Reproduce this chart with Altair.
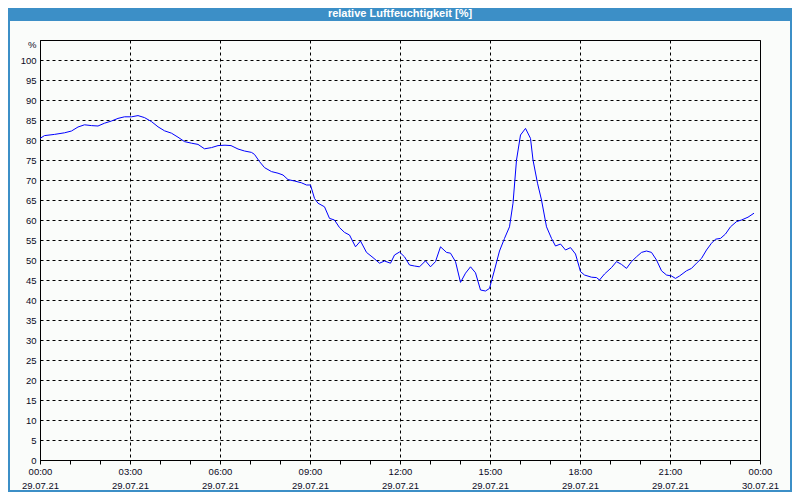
import altair as alt
import pandas as pd

# minutes after 29.07.21 00:00 and relative humidity [%]
minutes = [0, 9, 29, 49, 63, 76, 89, 103, 116, 129, 143, 156, 169, 183, 196, 209, 223, 236, 249, 263,
           276, 289, 303, 316, 329, 343, 356, 370, 382, 396, 409, 423, 429, 439, 449, 463, 476, 486, 496, 509,
           523, 533, 541, 549, 556, 569, 579, 589, 599, 609, 619, 631, 641, 653, 666, 679, 689, 701, 709, 719,
           729, 739, 749, 759, 771, 781, 791, 801, 813, 821, 831, 841, 851, 861, 871, 881, 891, 899, 909, 919,
           929, 939, 946, 953, 961, 971, 981, 986, 995, 1003, 1013, 1023, 1031, 1041, 1051, 1061, 1071, 1081, 1089, 1103,
           1113, 1119, 1129, 1143, 1153, 1163, 1173, 1183, 1193, 1203, 1213, 1223, 1233, 1243, 1253, 1263, 1271, 1279, 1293, 1303,
           1313, 1323, 1333, 1343, 1351, 1361, 1371, 1381, 1393, 1403, 1416, 1428]
humidity = [80.4, 81.1, 81.4, 81.8, 82.25, 83.25, 83.8, 83.6, 83.5, 84.2, 84.75, 85.4, 85.8, 85.8, 86.1, 85.6, 84.6, 83.3, 82.3, 81.7,
            80.7, 79.6, 79.2, 78.9, 77.8, 78.1, 78.6, 78.7, 78.6, 77.75, 77.25, 76.9, 76.4, 74.6, 73.1, 72.1, 71.7, 71.25, 70.1, 69.75,
            69.3, 68.75, 68.75, 65.4, 64.2, 63.3, 60.4, 60.0, 58.1, 56.9, 56.25, 53.3, 54.75, 51.9, 50.6, 49.2, 49.75, 49.2, 51.25, 52.0,
            50.8, 48.75, 48.5, 48.3, 49.8, 48.3, 49.6, 53.3, 51.9, 51.7, 49.6, 44.4, 46.7, 48.3, 46.8, 42.5, 42.25, 42.9, 47.5, 52.25,
            55.4, 58.3, 64.2, 75.0, 81.25, 82.9, 80.4, 75.0, 69.2, 65.0, 58.3, 55.4, 53.5, 54.0, 52.5, 53.1, 51.5, 47.1, 46.25, 45.7,
            45.6, 45.0, 46.5, 48.1, 49.6, 48.9, 47.9, 49.6, 50.8, 51.9, 52.25, 51.9, 50.0, 47.3, 46.25, 46.0, 45.4, 46.0, 47.3, 47.9,
            49.2, 50.4, 52.5, 54.2, 55.2, 55.4, 56.5, 58.3, 59.6, 60.0, 60.7, 61.7]

x_ticks = list(range(0, 1441, 60))
y_ticks = list(range(0, 101, 5))
title_text = "relative Luftfeuchtigkeit [%]"
y_unit = "%"

df = pd.DataFrame({"minute": minutes, "rh": humidity})

FONT = "Liberation Sans"
LABEL = "#0a0a1e"
BLUE = "#3c8fc7"
BG = "#fafcfa"

x_axis = alt.Axis(
    values=x_ticks, tickSize=4, tickColor="black", domainColor="black",
    labelExpr="datum.value % 180 === 0 ? [timeFormat(datetime(2021,6,29,0,datum.value),'%H:%M'), "
              "timeFormat(datetime(2021,6,29,0,datum.value),'%d.%m.%y')] : ''",
    labelFlush=False, labelOverlap=False, labelBound=False, labelPadding=2, labelLineHeight=14,
    labelFont=FONT, labelFontSize=9.5, labelColor=LABEL,
    grid=True, gridColor="black", gridDash=[3, 3],
    gridOpacity={"condition": {"test": "datum.value % 180 === 0", "value": 1}, "value": 0},
    title=None,
)

y_axis = alt.Axis(
    values=y_ticks, tickSize=0, domainColor="black", labelPadding=4,
    labelFont=FONT, labelFontSize=9.5, labelColor=LABEL,
    grid=True, gridColor="black", gridDash=[3, 3],
    title=y_unit, titleAngle=0, titleX=-4, titleY=4, titleAlign="right", titleBaseline="middle",
    titleFont=FONT, titleFontSize=9.5, titleFontWeight="normal", titleColor=LABEL,
)

line = alt.Chart(df).mark_line(color="#0000ff", strokeWidth=1, interpolate="linear").encode(
    x=alt.X("minute:Q", scale=alt.Scale(domain=[0, 1440], nice=False, zero=False), axis=x_axis),
    y=alt.Y("rh:Q", scale=alt.Scale(domain=[0, 105], nice=False), axis=y_axis),
)

deco = alt.Data(values=[{"k": 0}])

title_bar = alt.Chart(deco).mark_rect(color=BLUE).encode(
    x=alt.value(-32), x2=alt.value(752), y=alt.value(-32), y2=alt.value(-19)
)
border = alt.Chart(deco).mark_rect(fill=None, stroke=BLUE, strokeWidth=2, fillOpacity=0).encode(
    x=alt.value(-31), x2=alt.value(751), y=alt.value(-31), y2=alt.value(451)
)
title = alt.Chart(deco).mark_text(
    text=title_text, color="white", font=FONT, fontSize=11, fontWeight="bold",
    align="center", baseline="middle"
).encode(x=alt.value(360), y=alt.value(-26))

chart = alt.layer(line, title_bar, border, title).properties(
    width=720, height=420,
    autosize=alt.AutoSizeParams(type="none"),
    padding={"left": 32, "top": 32, "right": 32, "bottom": 32},
    background=BG,
).configure_view(stroke="black", strokeWidth=1, fill=BG)

chart.save("out.html", embed_options={"renderer": "svg", "actions": False})
